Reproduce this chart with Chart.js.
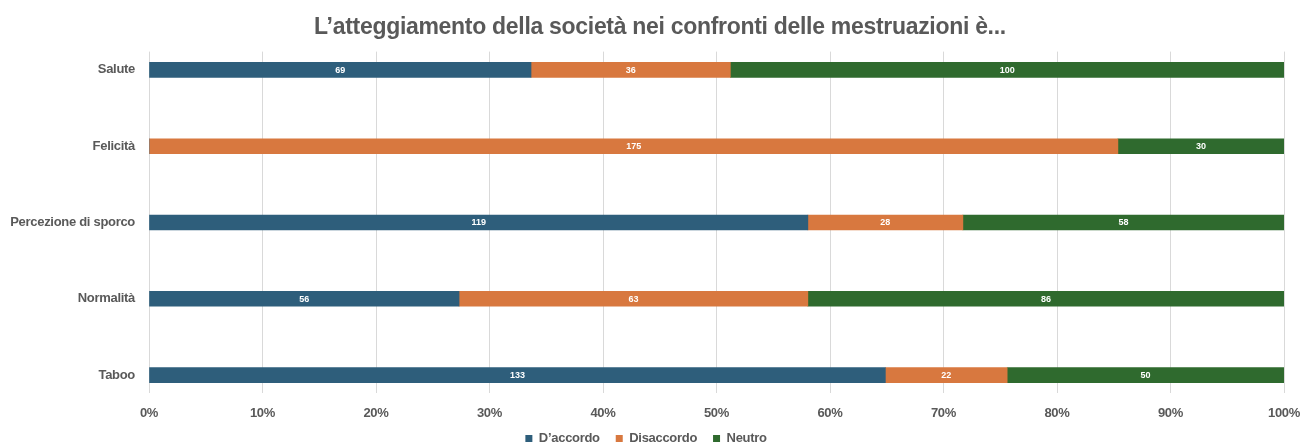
<!DOCTYPE html>
<html>
<head>
<meta charset="utf-8">
<script src="https://cdn.jsdelivr.net/npm/chart.js@4"></script>
<style>
  html, body { margin: 0; padding: 0; background: #fff; }
  #wrap { width: 1301px; height: 443px; }
</style>
</head>
<body>
<div id="wrap"><canvas id="chart" width="1301" height="443"></canvas></div>
<script>
const categories = ['Salute', 'Felicità', 'Percezione di sporco', 'Normalità', 'Taboo'];
const accordo = [69, 0, 119, 56, 133];
const disaccordo = [36, 175, 28, 63, 22];
const neutro = [100, 30, 58, 86, 50];
const totalAnswers = 205;
const tickLabels = ['0%', '10%', '20%', '30%', '40%', '50%', '60%', '70%', '80%', '90%', '100%'];

const grey = '#595959';
const font = '"Liberation Sans", Arial, sans-serif';

// tighter letters so the bold sans looks a bit narrower
const narrowText = {
    id: 'narrowText',
    beforeUpdate(chart) { chart.ctx.letterSpacing = '-0.3px'; },
    beforeDraw(chart) { chart.ctx.letterSpacing = '-0.3px'; }
};

// legend keeps its wide item spacing but takes less height
const compactLegend = {
    id: 'compactLegend',
    beforeLayout(chart) {
        const lg = chart.legend;
        if (!lg || lg._compact) return;
        const fit = lg.fit;
        lg.fit = function() {
            fit.call(this);
            this.height = 10;
        };
        lg._compact = true;
    },
    afterLayout(chart) {
        const lg = chart.legend;
        if (lg) {
            lg.top = 416;
            lg.bottom = chart.height;
            lg.height = lg.bottom - lg.top;
        }
        const t = chart.titleBlock;
        if (t) {
            t.left += 14;
            t.right += 14;
        }
    }
};

// pull the first and last bar closer to the plot edges
const bandEdges = {
    id: 'bandEdges',
    afterLayout(chart) {
        const y = chart.scales.y;
        const edge = 0.24;
        y._startValue = -edge;
        y._valueRange = (categories.length - 1) + 2 * edge;
    }
};

// writes the count in the middle of every segment
const segmentLabels = {
    id: 'segmentLabels',
    afterDatasetsDraw(chart) {
        const ctx = chart.ctx;
        ctx.save();
        ctx.letterSpacing = '0px';
        ctx.font = 'bold 9px "Liberation Sans"';
        ctx.fillStyle = '#ffffff';
        ctx.textAlign = 'center';
        ctx.textBaseline = 'middle';
        chart.data.datasets.forEach(function(ds, i) {
            const meta = chart.getDatasetMeta(i);
            meta.data.forEach(function(bar, j) {
                const v = ds.data[j];
                if (!v) return;
                const p = bar.getProps(['x', 'y', 'base'], true);
                ctx.fillText(String(v), (p.x + p.base) / 2, p.y + 0.5);
            });
        });
        ctx.restore();
    }
};

new Chart(document.getElementById('chart').getContext('2d'), {
    type: 'bar',
    data: {
        labels: categories,
        datasets: [
            { label: 'D’accordo', data: accordo, backgroundColor: '#2e5e7b' },
            { label: 'Disaccordo', data: disaccordo, backgroundColor: '#d8783f' },
            { label: 'Neutro', data: neutro, backgroundColor: '#2f6a2e' }
        ]
    },
    options: {
        indexAxis: 'y',
        responsive: false,
        animation: false,
        barThickness: 15,
        layout: { padding: { left: 8, right: 17, top: 0, bottom: 0 } },
        scales: {
            x: {
                stacked: true,
                min: 0,
                max: totalAnswers,
                afterBuildTicks(axis) {
                    axis.ticks = tickLabels.map(function(t, i) {
                        return { value: totalAnswers * i / 10 };
                    });
                },
                afterFit(scale) {
                    scale.paddingLeft = 0;
                    scale.paddingRight = 0;
                },
                ticks: {
                    color: grey,
                    font: { family: font, size: 13, weight: 'bold' },
                    padding: 12,
                    maxRotation: 0,
                    callback: function(value, index) { return tickLabels[index]; }
                },
                grid: { color: '#d9d9d9', drawTicks: false },
                border: { display: false }
            },
            y: {
                stacked: true,
                afterFit(scale) { scale.width = 141; },
                ticks: {
                    color: grey,
                    font: { family: font, size: 13, weight: 'bold' },
                    padding: 14
                },
                grid: { display: false, drawTicks: false },
                border: { display: false }
            }
        },
        plugins: {
            title: {
                display: true,
                text: 'L’atteggiamento della società nei confronti delle mestruazioni è...',
                color: grey,
                font: { family: font, size: 23, weight: 'bold' },
                padding: { top: 14, bottom: 10 }
            },
            legend: {
                position: 'bottom',
                labels: {
                    color: grey,
                    boxWidth: 7,
                    boxHeight: 7,
                    padding: 16,
                    font: { family: font, size: 13, weight: 'bold' }
                }
            },
            tooltip: { enabled: false }
        }
    },
    plugins: [narrowText, compactLegend, bandEdges, segmentLabels]
});
</script>
</body>
</html>
